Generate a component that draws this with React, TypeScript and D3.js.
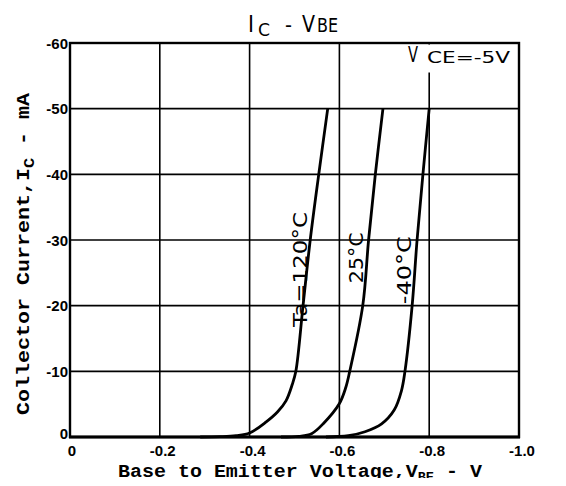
import React from "react";
import * as d3 from "d3";

// chart values
const xTicks = [0, -0.2, -0.4, -0.6, -0.8, -1.0];
const xTickLabels = ["0", "-0.2", "-0.4", "-0.6", "-0.8", "-1.0"];
const yTicks = [0, -10, -20, -30, -40, -50, -60];
const yTickLabels = ["0", "-10", "-20", "-30", "-40", "-50", "-60"];

// [V_BE (V), I_C (mA)]
const ta120: [number, number][] = [
  [-0.29, 0], [-0.334, -0.05], [-0.37, -0.2], [-0.40, -0.6], [-0.437, -2.3],
  [-0.462, -3.8], [-0.481, -5.5], [-0.495, -8], [-0.503, -10], [-0.519, -20],
  [-0.535, -30], [-0.554, -40], [-0.574, -50],
];
const ta25: [number, number][] = [
  [-0.47, 0], [-0.51, -0.1], [-0.538, -0.5], [-0.565, -2.1], [-0.60, -5.1],
  [-0.614, -7.5], [-0.623, -10], [-0.652, -20], [-0.665, -30], [-0.68, -40],
  [-0.697, -50],
];
const taM40: [number, number][] = [
  [-0.57, 0], [-0.62, -0.2], [-0.657, -0.8], [-0.694, -2.0], [-0.722, -4.1],
  [-0.738, -7.0], [-0.746, -10], [-0.762, -20], [-0.773, -30], [-0.786, -40],
  [-0.80, -50],
];

const curves = [ta120, ta25, taM40];
// label text, centre V, centre I, length in px
const curveLabels = [
  { text: "Ta=120°C", v: -0.512, i: -25.5, len: 115 },
  { text: "25°C", v: -0.636, i: -27.3, len: 51 },
  { text: "-40°C", v: -0.743, i: -25.4, len: 68 },
];

const W = 566;
const H = 486;
const left = 70, right = 519, top = 43, bottom = 437;

const App = () => {
  const x = d3.scaleLinear().domain([0, -1.0]).range([left, right]);
  const y = d3.scaleLinear().domain([0, -60]).range([bottom, top]);
  const line = d3
    .line<[number, number]>()
    .x((d) => x(d[0]))
    .y((d) => y(d[1]))
    .curve(d3.curveCatmullRom.alpha(0.5));

  const tickFont = "'Liberation Sans', Arial, sans-serif";
  const labelFont = "'DejaVu Sans', sans-serif";
  const monoFont = "'Liberation Mono', 'DejaVu Sans Mono', monospace";

  return (
    <svg width={W} height={H} style={{ display: "block", margin: "-8px", background: "#fff" }}>
      <rect width={W} height={H} fill="#fff" />
      {/* scanner edge at the top */}
      <line x1={0} y1={2} x2={W} y2={4} stroke="#000" strokeWidth={2.5} />

      {/* grid */}
      {xTicks.slice(1, -1).map((t) => (
        <line key={"gx" + t} x1={x(t)} x2={x(t)} y1={top} y2={bottom} stroke="#000" strokeWidth={1.6} />
      ))}
      {yTicks.slice(1, -1).map((t) => (
        <line key={"gy" + t} x1={left} x2={right} y1={y(t)} y2={y(t)} stroke="#000" strokeWidth={1.6} />
      ))}

      {/* V_CE label box interrupts the grid */}
      <rect x={400} y={top + 1.5} width={right - 401.5} height={28} fill="#fff" />
      <text x={408} y={62} fontFamily={labelFont} fontSize={21} textLength={10} lengthAdjust="spacingAndGlyphs">V</text>
      <text x={427} y={63} fontFamily={labelFont} fontSize={16} textLength={83} lengthAdjust="spacingAndGlyphs">CE=-5V</text>

      {/* frame */}
      <rect x={left} y={top} width={right - left} height={bottom - top} fill="none" stroke="#000" strokeWidth={2.4} />
      <line x1={left - 1} x2={right + 1} y1={bottom} y2={bottom} stroke="#000" strokeWidth={3} />

      {/* curves */}
      {curves.map((c, k) => (
        <path key={"c" + k} d={line(c) ?? ""} fill="none" stroke="#000" strokeWidth={2.8} strokeLinejoin="round" />
      ))}
      {curveLabels.map((l) => (
        <text
          key={l.text}
          x={x(l.v)}
          y={y(l.i)}
          transform={`rotate(-90 ${x(l.v)} ${y(l.i)})`}
          textAnchor="middle"
          dominantBaseline="central"
          fontFamily={labelFont}
          fontSize={20}
          textLength={l.len}
          lengthAdjust="spacingAndGlyphs"
        >
          {l.text}
        </text>
      ))}

      {/* tick labels */}
      {xTicks.map((t, k) => (
        <text key={"xt" + t} x={x(t) + (k === 0 ? 2 : 3)} y={456} textAnchor="middle" fontFamily={tickFont} fontWeight="bold" fontSize={15}>
          {xTickLabels[k]}
        </text>
      ))}
      {yTicks.map((t, k) => (
        <text key={"yt" + t} x={left - 2} y={y(t) - (k === 0 ? 4 : 0)} textAnchor="end" dominantBaseline="central" fontFamily={tickFont} fontWeight="bold" fontSize={15}>
          {yTickLabels[k]}
        </text>
      ))}

      {/* title */}
      <text x={248} y={32} fontFamily={labelFont} fontSize={23} textLength={6} lengthAdjust="spacingAndGlyphs">I</text>
      <text x={258} y={36} fontFamily={labelFont} fontSize={18} textLength={12} lengthAdjust="spacingAndGlyphs">C</text>
      <text x={285} y={32} fontFamily={labelFont} fontSize={22} textLength={7} lengthAdjust="spacingAndGlyphs">-</text>
      <text x={302} y={32} fontFamily={labelFont} fontSize={23} textLength={13} lengthAdjust="spacingAndGlyphs">V</text>
      <text x={317} y={32} fontFamily={labelFont} fontSize={19} textLength={21} lengthAdjust="spacingAndGlyphs">BE</text>

      {/* axis titles */}
      <text x={118} y={477} fontFamily={monoFont} fontWeight="bold" fontSize={19} textLength={364} lengthAdjust="spacingAndGlyphs">
        Base to Emitter Voltage,V<tspan fontSize={13} dy={4}>BE</tspan>
        <tspan dy={-4}> - V</tspan>
      </text>
      <text
        x={0}
        y={0}
        transform="translate(29 415) rotate(-90)"
        fontFamily={monoFont}
        fontWeight="bold"
        fontSize={18}
        textLength={322}
        lengthAdjust="spacingAndGlyphs"
      >
        Collector Current,I<tspan fontSize={14} dy={5}>C</tspan>
        <tspan dy={-5}> - mA</tspan>
      </text>
    </svg>
  );
};

export default App;
